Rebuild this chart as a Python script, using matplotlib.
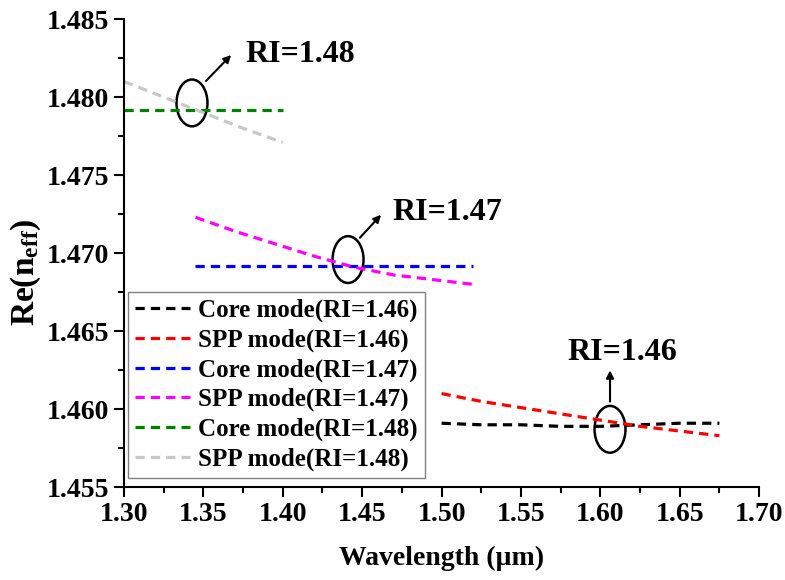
import matplotlib
matplotlib.use("Agg")
import matplotlib.pyplot as plt
from matplotlib.patches import Ellipse
from matplotlib.ticker import MultipleLocator, FormatStrFormatter

# Effective index of core and SPP modes for three analyte RIs
wl_146 = [1.50, 1.525, 1.55, 1.575, 1.60, 1.625, 1.65, 1.675]
core_146 = [1.4591, 1.4590, 1.4590, 1.4589, 1.4589, 1.4590, 1.4591, 1.4591]
spp_146 = [1.4610, 1.4605, 1.4601, 1.4597, 1.4593, 1.4589, 1.4586, 1.4583]

wl_147 = [1.345, 1.37, 1.395, 1.42, 1.445, 1.47, 1.495, 1.52]
core_147 = [1.4692, 1.4692, 1.4692, 1.4692, 1.4692, 1.4692, 1.4692, 1.4692]
spp_147 = [1.4723, 1.4714, 1.4706, 1.4698, 1.4691, 1.4686, 1.4683, 1.4680]

wl_148 = [1.30, 1.325, 1.35, 1.375, 1.40]
core_148 = [1.4792, 1.4792, 1.4792, 1.4792, 1.4792]
spp_148 = [1.4810, 1.4800, 1.4790, 1.4780, 1.4771]

series = [
    (wl_146, core_146, "black", "Core mode(RI=1.46)"),
    (wl_146, spp_146, "#ff0000", "SPP mode(RI=1.46)"),
    (wl_147, core_147, "#0000ff", "Core mode(RI=1.47)"),
    (wl_147, spp_147, "#ff00ff", "SPP mode(RI=1.47)"),
    (wl_148, core_148, "#008000", "Core mode(RI=1.48)"),
    (wl_148, spp_148, "#c8c8c8", "SPP mode(RI=1.48)"),
]

# (ellipse centre, label text, label pos, arrow tail, arrow head, alignment)
callouts = [
    ((1.3428, 1.47963), "RI=1.48", (1.3762, 1.48276), (1.3504, 1.48091), (1.3687, 1.48283), "left"),
    ((1.4411, 1.46959), "RI=1.47", (1.4688, 1.47259), (1.4474, 1.47086), (1.4631, 1.47259), "left"),
    ((1.6061, 1.45871), "RI=1.46", (1.6137, 1.46364), (1.6061, 1.46031), (1.6061, 1.46267), "center"),
]

plt.rcParams["font.family"] = ["Liberation Serif", "DejaVu Serif"]
plt.rcParams["font.weight"] = "bold"
plt.rcParams["mathtext.fontset"] = "custom"
plt.rcParams["mathtext.rm"] = "Liberation Serif:bold"
plt.rcParams["mathtext.bf"] = "Liberation Serif:bold"
plt.rcParams["mathtext.it"] = "Liberation Serif:bold"

fig = plt.figure(figsize=(7.85, 5.8), dpi=100)
ax = fig.add_axes([0.158, 0.160, 0.809, 0.807])

for x, y, c, lab in series:
    ax.plot(x, y, color=c, lw=2.3, linestyle=(0, (2.9, 1.9)), label=lab)

for centre, txt, tpos, tail, head, ha in callouts:
    ax.add_patch(Ellipse(centre, 0.0195, 0.0030, fill=False, ec="black", lw=1.8))
    ax.annotate("", xy=head, xytext=tail,
                arrowprops=dict(arrowstyle="-|>", color="black", lw=1.5, mutation_scale=11))
    ax.text(tpos[0], tpos[1], txt, fontsize=23, fontweight="bold", ha=ha, va="center")

ax.set_xlim(1.30, 1.70)
ax.set_ylim(1.455, 1.485)
ax.xaxis.set_major_locator(MultipleLocator(0.05))
ax.xaxis.set_minor_locator(MultipleLocator(0.025))
ax.yaxis.set_major_locator(MultipleLocator(0.005))
ax.yaxis.set_minor_locator(MultipleLocator(0.0025))
ax.xaxis.set_major_formatter(FormatStrFormatter("%.2f"))
ax.yaxis.set_major_formatter(FormatStrFormatter("%.3f"))

for s in ("top", "right"):
    ax.spines[s].set_visible(False)
for s in ("left", "bottom"):
    ax.spines[s].set_linewidth(1.5)
ax.tick_params(which="major", direction="out", length=7, width=1.5, labelsize=20, pad=4)
ax.tick_params(which="minor", direction="out", length=4, width=1.5)
for lbl in ax.get_xticklabels() + ax.get_yticklabels():
    lbl.set_fontweight("bold")

ax.set_xlabel("Wavelength (\u00b5m)", fontsize=20, fontweight="bold", labelpad=13)
ax.set_ylabel(r"Re(n$_{\mathbf{eff}}$)", fontsize=24, fontweight="bold")
ax.yaxis.set_label_coords(-0.128, 0.46)

leg = ax.legend(loc="lower left", bbox_to_anchor=(0.006, 0.019), borderaxespad=0,
                handlelength=2.2, handletextpad=0.3, labelspacing=0.25,
                borderpad=0.3, fancybox=False, framealpha=1, edgecolor="#808080",
                prop={"weight": "bold", "size": 18})
leg.get_frame().set_linewidth(1.0)

fig.savefig("out.png", dpi=100)
